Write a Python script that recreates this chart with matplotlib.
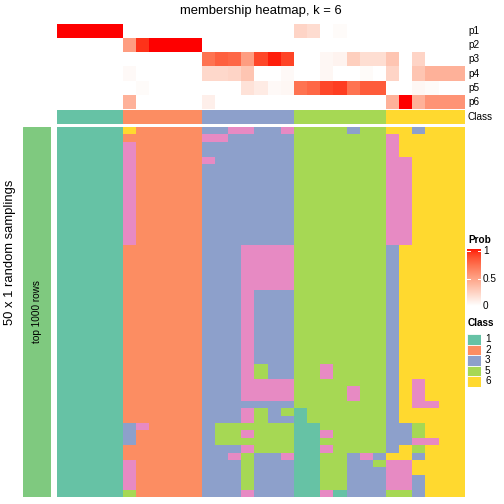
import numpy as np
import matplotlib
matplotlib.use("Agg")
import matplotlib.pyplot as plt
from matplotlib.colors import ListedColormap

plt.rcParams['font.family'] = ['Liberation Sans', 'DejaVu Sans']

# ---------------- data ----------------
title = "membership heatmap, k = 6"
prob_labels = ["p1", "p2", "p3", "p4", "p5", "p6"]
class_labels = [1, 2, 3, 5, 6]
class_colors = {1: '#66C2A5', 2: '#FC8D62', 3: '#8DA0CB', 4: '#E78AC3', 5: '#A6D854', 6: '#FFD92F'}

column_class = [1]*5 + [2]*6 + [3]*7 + [5]*7 + [6]*6

p1 = [1, 1, 1, 1, 1, 0, 0, 0, 0, 0, 0, 0, 0, 0, 0, 0, 0, 0, 0.22, 0.18, 0, 0.02, 0, 0, 0, 0, 0, 0, 0, 0, 0]
p2 = [0, 0, 0, 0, 0, 0.5, 0.93, 1, 1, 1, 1, 0, 0, 0, 0, 0, 0, 0, 0, 0, 0, 0, 0, 0, 0, 0, 0, 0, 0, 0, 0]
p3 = [0, 0, 0, 0, 0, 0, 0, 0, 0, 0, 0, 0.7, 0.78, 0.75, 0.5, 0.87, 0.97, 0.88, 0, 0, 0.04, 0.06, 0.25, 0.17, 0.17, 0.3, 0, 0.22, 0, 0, 0]
p4 = [0, 0, 0, 0, 0, 0.03, 0, 0, 0, 0, 0, 0.2, 0.2, 0.22, 0.3, 0, 0, 0.03, 0, 0, 0.04, 0, 0, 0.02, 0, 0.22, 0, 0.3, 0.4, 0.4, 0.4]
p5 = [0, 0, 0, 0, 0, 0, 0.02, 0, 0, 0, 0, 0, 0, 0, 0.15, 0.1, 0.03, 0.04, 0.7, 0.75, 0.87, 0.9, 0.7, 0.8, 0.8, 0, 0, 0.04, 0.02, 0, 0]
p6 = [0, 0, 0, 0, 0, 0.4, 0, 0, 0, 0, 0, 0.08, 0, 0, 0, 0, 0, 0, 0, 0, 0, 0, 0, 0, 0, 0.4, 1, 0.4, 0.55, 0.55, 0.55]

samplings = [
    "11111 622222 3344334 5555355 663666",
    "11111 222222 4433333 5555555 466666",
    "11111 422222 3333333 5555555 466666",
    "11111 422222 3333333 5555555 466666",
    "11111 422222 4333333 5555555 446666",
] + ["11111 422222 3333333 5555555 446666"] * 11 \
  + ["11111 222222 3334444 5555555 366666"] * 6 \
  + ["11111 222222 3334333 5555555 366666"] * 10 \
  + ["11111 222222 3334533 5545555 366666"] * 2 \
  + ["11111 222222 3334444 5555555 364666"] \
  + ["11111 222222 3334444 5555455 364666"] * 2 \
  + [
    "11111 222222 3333333 5555555 364466",
    "11111 222222 3334535 1555555 366666",
    "11111 222222 3334533 1555555 366666",
    "11111 342222 3555555 1155555 335666",
    "11111 322222 3554555 1145555 335666",
    "11111 322222 3555555 1155555 334466",
    "11111 222222 3334555 1145555 365666",
    "11111 222222 3345334 1155343 663666",
    "11111 422222 3335333 1155335 446666",
    "11111 422222 3335333 1155333 446666",
    "11111 422222 3335333 1155333 443666",
    "11111 422222 3335333 1155333 443666",
    "11111 522222 3334333 1141333 553666",
]

# ---------------- helpers ----------------
W = H = 504
fig = plt.figure(figsize=(W/72, H/72), dpi=72)


def ax_px(x0, y0, x1, y1):
    a = fig.add_axes([x0/W, 1 - y1/H, (x1 - x0)/W, (y1 - y0)/H])
    a.set_axis_off()
    return a


M = np.array([[0.4124, 0.3576, 0.1805], [0.2126, 0.7152, 0.0722], [0.0193, 0.1192, 0.9505]])
WP = M @ np.ones(3)


def rgb2lab(c):
    lin = np.where(c <= 0.04045, c/12.92, ((c + 0.055)/1.055)**2.4)
    xyz = M @ lin / WP
    f = np.where(xyz > (6/29)**3, np.cbrt(xyz), xyz/(3*(6/29)**2) + 4/29)
    return np.array([116*f[1] - 16, 500*(f[0] - f[1]), 200*(f[1] - f[2])])


def lab2rgb(lab):
    L, a, b = lab
    fy = (L + 16)/116
    fx = fy + a/500
    fz = fy - b/200
    f = np.array([fx, fy, fz])
    xyz = np.where(f > 6/29, f**3, 3*(6/29)**2*(f - 4/29)) * WP
    lin = np.linalg.solve(M, xyz)
    lin = np.clip(lin, 0, 1)
    c = np.where(lin <= 0.0031308, 12.92*lin, 1.055*lin**(1/2.4) - 0.055)
    return np.clip(c, 0, 1)


LAB_W = rgb2lab(np.array([1.0, 1.0, 1.0]))
LAB_R = rgb2lab(np.array([1.0, 0.0, 0.0]))


def prob_color(v):
    if v <= 0:
        return np.ones(3)
    return lab2rgb(LAB_W + (LAB_R - LAB_W)*v)


# ---------------- body heatmap ----------------
order = [1, 2, 3, 4, 5, 6]
cmap = ListedColormap([class_colors[k] for k in order])
mat = np.array([[order.index(int(ch)) for ch in s.replace(" ", "")] for s in samplings])

x0, x1 = 57, 465
ax = ax_px(x0, 127, x1, 497)
ax.imshow(mat, cmap=cmap, vmin=-0.5, vmax=5.5, aspect='auto', interpolation='nearest')

# ---------------- top annotations ----------------
probs = np.array([p1, p2, p3, p4, p5, p6])
rgb = np.array([[prob_color(v) for v in row] for row in probs])
axp = ax_px(x0, 24, x1, 109)
axp.imshow(rgb, aspect='auto', interpolation='nearest')

axc = ax_px(x0, 110, x1, 124)
axc.imshow(np.array([[order.index(c) for c in column_class]]), cmap=cmap, vmin=-0.5, vmax=5.5,
           aspect='auto', interpolation='nearest')

row_h = (109 - 24)/6
for i, lab in enumerate(prob_labels):
    fig.text(468/W, 1 - (24 + row_h*(i + 0.5))/H, lab, ha='left', va='center', fontsize=10)
fig.text(468/W, 1 - 117/H, "Class", ha='left', va='center', fontsize=10)

# ---------------- title ----------------
fig.text(261/W, 1 - 11/H, title, ha='center', va='center', fontsize=13)

# ---------------- left bar ----------------
axl = ax_px(23, 127, 51, 497)
axl.add_patch(plt.Rectangle((0, 0), 1, 1, color='#7FC97F', transform=axl.transAxes))
axl.text(0.5, 0.5, "top 1000 rows", rotation=90, ha='center', va='center', fontsize=10,
         transform=axl.transAxes)
fig.text(10/W, 1 - 252/H, "50 x 1 random samplings", rotation=90, ha='center', va='center', fontsize=13)

# ---------------- legends ----------------
fig.text(468/W, 1 - 240/H, "Prob", ha='left', va='center', fontsize=10, fontweight='bold')
axg = ax_px(467, 249, 481, 306)
grad = np.linspace(1, 0, 100)
axg.imshow(np.array([[prob_color(v)] for v in grad]), aspect='auto', interpolation='bilinear')
for v, lab in [(1, "1"), (0.5, "0.5"), (0, "0")]:
    y = 251 + (1 - v)*(306 - 251)
    fig.text(483/W, 1 - y/H, lab, ha='left', va='center', fontsize=10)
    axg.plot([0, 0.18], [1 - (y - 249)/57]*2, color='white', lw=1, transform=axg.transAxes)
    axg.plot([0.82, 1], [1 - (y - 249)/57]*2, color='white', lw=1, transform=axg.transAxes)

fig.text(468/W, 1 - 323/H, "Class", ha='left', va='center', fontsize=10, fontweight='bold')
for i, c in enumerate(class_labels):
    top = 334 + i*10.5
    axb = ax_px(467, top, 481, top + 10.5)
    axb.add_patch(plt.Rectangle((0, 0), 1, 1, facecolor=class_colors[c], edgecolor='white', lw=0.8,
                                transform=axb.transAxes))
    fig.text(485/W, 1 - (top + 5.25)/H, str(c), ha='left', va='center', fontsize=10)

fig.savefig("out.png", dpi=72)
